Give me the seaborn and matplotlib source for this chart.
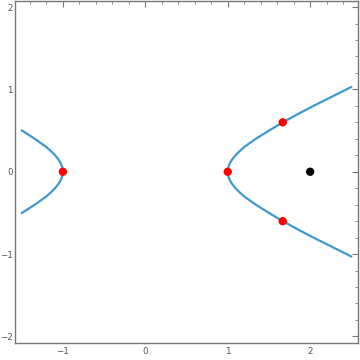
import matplotlib
matplotlib.use("Agg")
import matplotlib.pyplot as plt
import seaborn as sns
import pandas as pd
from matplotlib.ticker import MultipleLocator, FixedLocator

sns.set_style("white")
plt.rcParams['font.family'] = ['DejaVu Sans']

# Curve readings (right branch, bottom to top)
right_x = [2.50, 2.24, 2.04, 1.85, 1.667, 1.50, 1.34, 1.20, 1.144, 1.094, 1.054, 1.024, 1.006, 1.0,
           1.006, 1.024, 1.054, 1.094, 1.144, 1.20, 1.34, 1.50, 1.667, 1.85, 2.04, 2.24, 2.50]
right_y = [-1.03, -0.90, -0.80, -0.70, -0.60, -0.50, -0.40, -0.30, -0.25, -0.20, -0.15, -0.10, -0.05, 0.0,
           0.05, 0.10, 0.15, 0.20, 0.25, 0.30, 0.40, 0.50, 0.60, 0.70, 0.80, 0.90, 1.03]
# Left branch readings
left_x = [-1.50, -1.34, -1.20, -1.144, -1.094, -1.054, -1.024, -1.006, -1.0,
          -1.006, -1.024, -1.054, -1.094, -1.144, -1.20, -1.34, -1.50]
left_y = [-0.503, -0.40, -0.30, -0.25, -0.20, -0.15, -0.10, -0.05, 0.0,
          0.05, 0.10, 0.15, 0.20, 0.25, 0.30, 0.40, 0.503]

red_x = [-1.0, 1.0, 1.667, 1.667]
red_y = [0.0, 0.0, 0.6, -0.6]
black_x = [2.0]
black_y = [0.0]

x_ticks = [-1, 0, 1, 2]
y_ticks = [-2, -1, 0, 1, 2]

fig = plt.figure(figsize=(3.6, 3.6), dpi=100)
ax = fig.add_axes([15/360, 17/360, 343/360, 342.5/360])

line_color = "#3f98d0"
sns.lineplot(x=right_x, y=right_y, sort=False, estimator=None, ax=ax,
             color=line_color, linewidth=1.6)
sns.lineplot(x=left_x, y=left_y, sort=False, estimator=None, ax=ax,
             color=line_color, linewidth=1.6)
sns.scatterplot(x=red_x, y=red_y, ax=ax, color="#ff0000", s=36, edgecolor="none", zorder=5)
sns.scatterplot(x=black_x, y=black_y, ax=ax, color="black", s=36, edgecolor="none", zorder=5)

ax.set_xlim(-1.58, 2.58)
ax.set_ylim(-2.08, 2.08)
ax.xaxis.set_major_locator(FixedLocator(x_ticks))
ax.yaxis.set_major_locator(FixedLocator(y_ticks))
ax.xaxis.set_minor_locator(MultipleLocator(0.2))
ax.yaxis.set_minor_locator(MultipleLocator(0.2))
ax.set_xticklabels([f"{t}".replace("-", "\u2212") for t in x_ticks])
ax.set_yticklabels([f"{t}".replace("-", "\u2212") for t in y_ticks])

frame_col = "#777777"
for sp in ax.spines.values():
    sp.set_color(frame_col)
    sp.set_linewidth(1.0)
    sp.set_visible(True)
ax.tick_params(which="both", direction="in", top=True, right=True,
               color=frame_col, labelcolor="#555555", labelsize=6.3)
ax.tick_params(axis="y", pad=1.5)
ax.tick_params(axis="x", pad=3)
ax.tick_params(which="major", length=4.5, width=0.8)
ax.tick_params(which="minor", length=2.5, width=0.6)

fig.savefig("out.png", dpi=100)
